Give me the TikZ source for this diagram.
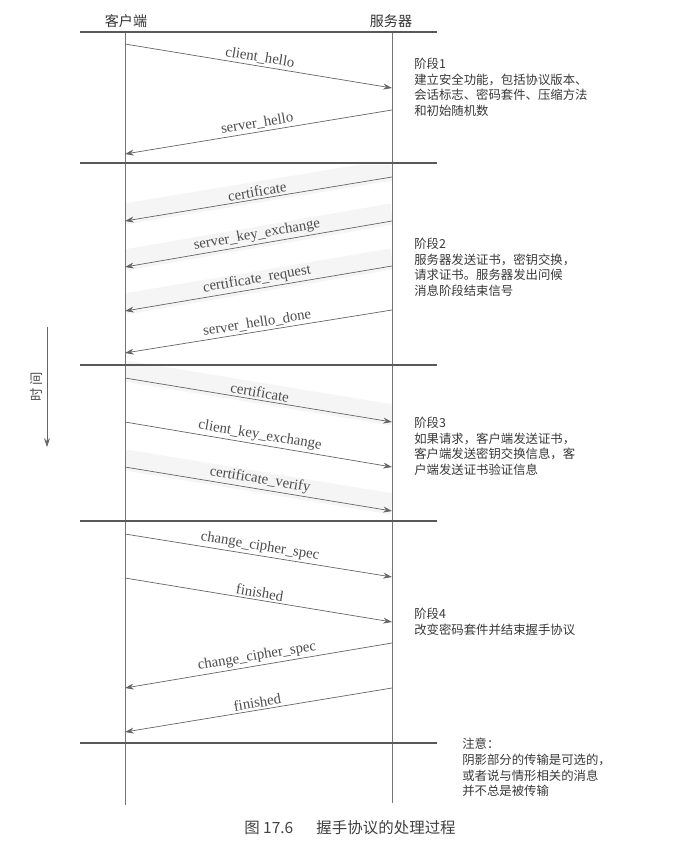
\documentclass[tikz,border=0pt]{standalone}
\usepackage{fontspec}
\setmainfont{Liberation Serif}
\newfontfamily\cjk{Noto Sans CJK SC}
\usetikzlibrary{arrows.meta,positioning,backgrounds}

\begin{document}
\begin{tikzpicture}[
    x=0.025cm, y=-0.025cm,
    life/.style={draw=black!55, line width=0.5pt},
    sepline/.style={draw=black!65, line width=0.9pt},
    msg/.style={draw=black!60, line width=0.5pt,
        -{Stealth[length=2.2mm, width=1.5mm]}},
    lbl/.style={midway, above, sloped, inner sep=1.5pt,
        font=\fontsize{10.5}{12}\selectfont, text=black!70},
    party/.style={font=\cjk\fontsize{10}{12}\selectfont, text=black!80},
    stage/.style={anchor=north west, align=left, inner sep=0pt,
        font=\cjk\fontsize{8.8}{11.1}\selectfont, text=black!78},
    optband/.style={line width=15pt, black!4, line cap=butt}
]
\useasboundingbox (0,0) rectangle (676,841);

% Headers
\node[party] (client) at (126,21) {客户端};
\node[party] (server) at (391,21) {服务器};

% Lifelines
\coordinate (cTop) at (125,32);
\coordinate (cBot) at (125,805);
\coordinate (sTop) at (392,32);
\coordinate (sBot) at (392,803);
\draw[life] (cTop) -- (cBot);
\draw[life] (sTop) -- (sBot);

% Phase separators
\foreach \y in {32,163,365,521,743}
    \draw[sepline] (80,\y) -- (437,\y);

% Client side points
\coordinate (c44)  at (125,44);
\coordinate (c154) at (125,154);
\coordinate (c221) at (125,221);
\coordinate (c267) at (125,267);
\coordinate (c311) at (125,311);
\coordinate (c353) at (125,353);
\coordinate (c378) at (125,378);
\coordinate (c422) at (125,422);
\coordinate (c467) at (125,467);
\coordinate (c534) at (125,534);
\coordinate (c578) at (125,578);
\coordinate (c688) at (125,688);
\coordinate (c732) at (125,732);

% Server side points
\coordinate (s88)  at (392,88);
\coordinate (s110) at (392,110);
\coordinate (s177) at (392,177);
\coordinate (s221) at (392,221);
\coordinate (s266) at (392,266);
\coordinate (s310) at (392,310);
\coordinate (s422) at (392,422);
\coordinate (s467) at (392,467);
\coordinate (s511) at (392,511);
\coordinate (s577) at (392,577);
\coordinate (s622) at (392,622);
\coordinate (s643) at (392,643);
\coordinate (s688) at (392,688);

% Shaded (optional) messages
\begin{scope}[on background layer]
\clip (125,165) rectangle (392,519);
\draw[optband] ([yshift=5pt]s177) -- ([yshift=5pt]c221);
\draw[optband] ([yshift=5pt]s221) -- ([yshift=5pt]c267);
\draw[optband] ([yshift=5pt]s266) -- ([yshift=5pt]c311);
\draw[optband] ([yshift=5pt]c378) -- ([yshift=5pt]s422);
\draw[optband] ([yshift=5pt]c467) -- ([yshift=5pt]s511);
\end{scope}

% Phase 1
\draw[msg] (c44)  -- node[lbl] {client\_hello} (s88);
\draw[msg] (s110) -- node[lbl] {server\_hello} (c154);

% Phase 2
\draw[msg] (s177) -- node[lbl] {certificate} (c221);
\draw[msg] (s221) -- node[lbl] {server\_key\_exchange} (c267);
\draw[msg] (s266) -- node[lbl] {certificate\_request} (c311);
\draw[msg] (s310) -- node[lbl] {server\_hello\_done} (c353);

% Phase 3
\draw[msg] (c378) -- node[lbl] {certificate} (s422);
\draw[msg] (c422) -- node[lbl] {client\_key\_exchange} (s467);
\draw[msg] (c467) -- node[lbl] {certificate\_verify} (s511);

% Phase 4
\draw[msg] (c534) -- node[lbl] {change\_cipher\_spec} (s577);
\draw[msg] (c578) -- node[lbl] {finished} (s622);
\draw[msg] (s643) -- node[lbl] {change\_cipher\_spec} (c688);
\draw[msg] (s688) -- node[lbl] {finished} (c732);

% Phase descriptions
\node[stage] (st1) at (414,58) {阶段1\\建立安全功能，包括协议版本、\\会话标志、密码套件、压缩方法\\和初始随机数};
\node[stage] (st2) at (414,238) {阶段2\\服务器发送证书，密钥交换，\\请求证书。服务器发出问候\\消息阶段结束信号};
\node[stage] (st3) at (414,417) {阶段3\\如果请求，客户端发送证书，\\客户端发送密钥交换信息，客\\户端发送证书验证信息};
\node[stage] (st4) at (414,608) {阶段4\\改变密码套件并结束握手协议};
\node[stage] (note) at (462,738) {注意：\\阴影部分的传输是可选的，\\或者说与情形相关的消息\\并不总是被传输};

% Time axis
\coordinate (t0) at (47,327);
\coordinate (t1) at (47,447);
\draw[msg] (t0) -- node[midway, rotate=90, anchor=south, inner sep=3pt,
    font=\cjk\fontsize{9.5}{10}\selectfont, text=black!70] (time) {时\,间} (t1);

% Caption
\node[font=\cjk\fontsize{11}{13}\selectfont, text=black!75] (caption) at (350,828)
    {图 17.6\hspace{1.5em}握手协议的处理过程};
\end{tikzpicture}
\end{document}
